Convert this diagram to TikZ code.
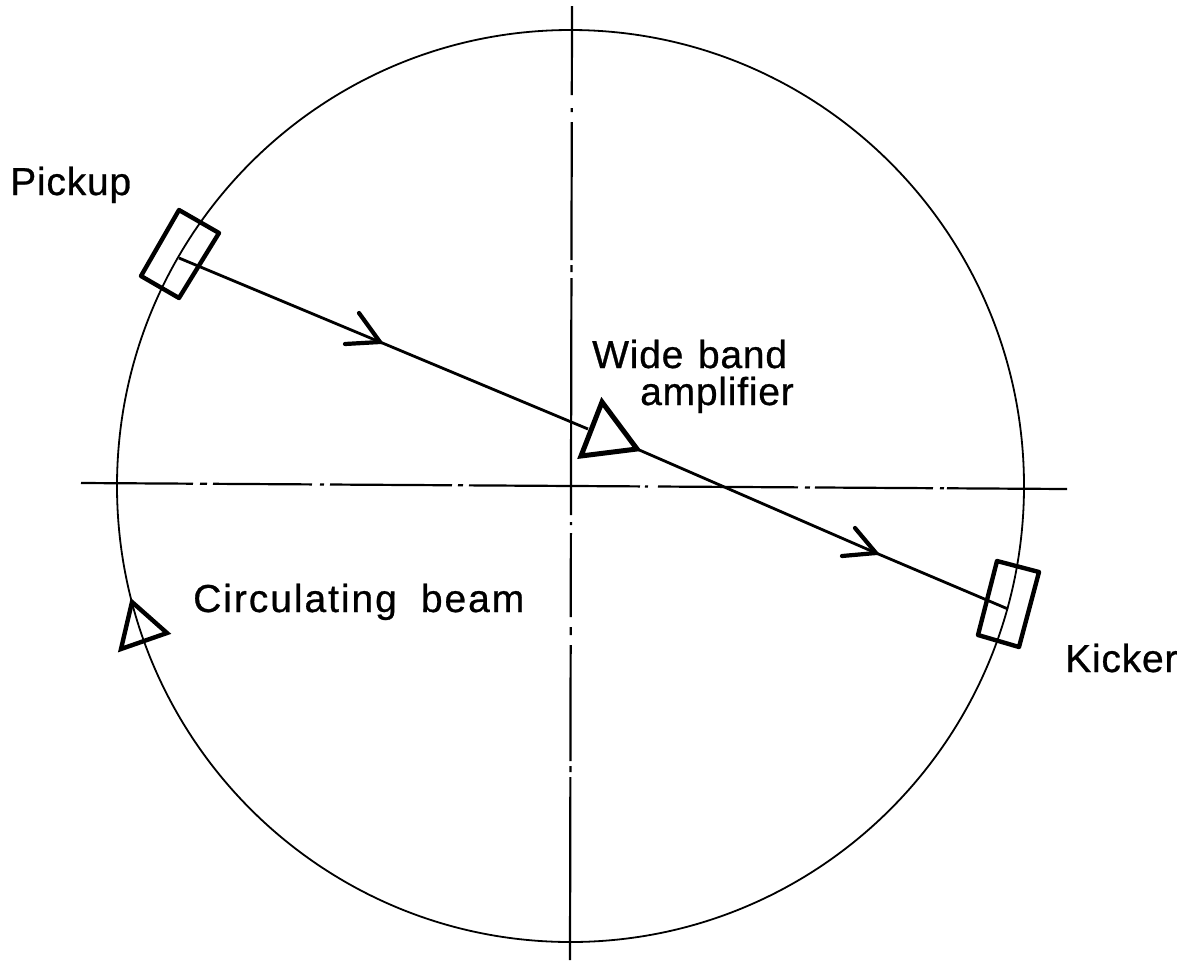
\documentclass[tikz,border=0pt]{standalone}
\usepackage{fontspec}
\setmainfont{Liberation Sans}
\newfontfamily\labelfont[LetterSpace=2,FakeBold=0.7]{Liberation Sans}
\newfontfamily\widelabelfont[LetterSpace=5,FakeBold=0.7]{Liberation Sans}
\begin{document}
\begin{tikzpicture}[x=1pt,y=-1pt,
  thin line/.style={line width=1.8pt,black},
  axis line/.style={line width=2.2pt,black},
  signal/.style={line width=2.8pt,black},
  barb/.style={line width=4.2pt,black,line cap=round,line join=miter},
  box/.style={line width=4.4pt,black,line join=round},
  amp/.style={line width=5pt,black,line join=miter},
  lab/.style={inner sep=0pt,anchor=base west,align=left,font=\labelfont\fontsize{39}{37}\selectfont},
]
\useasboundingbox (0,0) rectangle (1188,962);
\fill[white] (0,0) rectangle (1188,962);

% ring
\coordinate (ringc) at (570.5,486);
\draw[thin line] (ringc) ellipse [x radius=453.5, y radius=456];

% axes
\coordinate (hl) at (81,483);
\coordinate (hr) at (1067,489);
\coordinate (vt) at (572,6);
\coordinate (vb) at (570,960);
\draw[axis line,dash pattern=on 112pt off 7pt on 7pt off 6pt on 99pt off 8pt on 4pt off 6pt on 122pt off 6pt on 5pt off 6pt on 171pt off 5pt on 3pt off 10pt on 140pt off 7pt on 5pt off 5pt on 118pt off 7pt on 4pt off 3pt on 130pt] (hl) -- (hr);
\draw[axis line,dash pattern=on 89pt off 13pt on 4pt off 10pt on 138pt off 5pt on 7pt off 6pt on 237pt off 7pt on 3pt off 8pt on 84pt off 10pt on 8pt off 10pt on 116pt off 5pt on 6pt off 5pt on 190pt] (vt) -- (vb);

% pickup
\coordinate (pa) at (179,210);
\coordinate (pb) at (219,233);
\coordinate (pc) at (179,298);
\coordinate (pd) at (141,276);
\draw[box] (pa) -- (pb) -- (pc) -- (pd) -- cycle;

% kicker
\coordinate (ka) at (997,561);
\coordinate (kb) at (1039,572);
\coordinate (kc) at (1019,647);
\coordinate (kd) at (978,635);
\draw[box] (ka) -- (kb) -- (kc) -- (kd) -- cycle;

% amplifier
\coordinate (aa) at (602,402);
\coordinate (ab) at (637,449);
\coordinate (ac) at (581,456);
\draw[amp] (aa) -- (ab) -- (ac) -- cycle;

% signal path
\coordinate (pin) at (179,258);
\coordinate (tipa) at (380,342);
\coordinate (ain) at (588,429);
\coordinate (tipb) at (876,553);
\coordinate (kin) at (1008,609);
\draw[signal] (pin) -- (tipa) -- (ain);
\draw[signal] (ab) -- (tipb) -- (kin);

% arrow barbs
\coordinate (ba1) at (359,313);
\coordinate (ba2) at (345,344);
\coordinate (bb1) at (855,528);
\coordinate (bb2) at (842,556);
\draw[barb] (ba1) -- (tipa) -- (ba2);
\draw[barb] (bb1) -- (tipb) -- (bb2);

% beam direction triangle
\coordinate (ba) at (132,602);
\coordinate (bb) at (167,633);
\coordinate (bc) at (121,649);
\draw[amp,line width=4.4pt] (ba) -- (bb) -- (bc) -- cycle;

% labels
\node[lab] (pickup) at (10,195) {Pickup};
\node[lab] (kicker) at (1065,672) {Kicker};
\node[lab,font=\widelabelfont\fontsize{39}{37}\selectfont] (beam) at (193,612) {Circulating\hspace{24pt}beam};
\node[lab] (widea) at (592,405) {Wide\hspace{3pt} band\\\hspace*{48pt}amplifier};
\end{tikzpicture}
\end{document}
